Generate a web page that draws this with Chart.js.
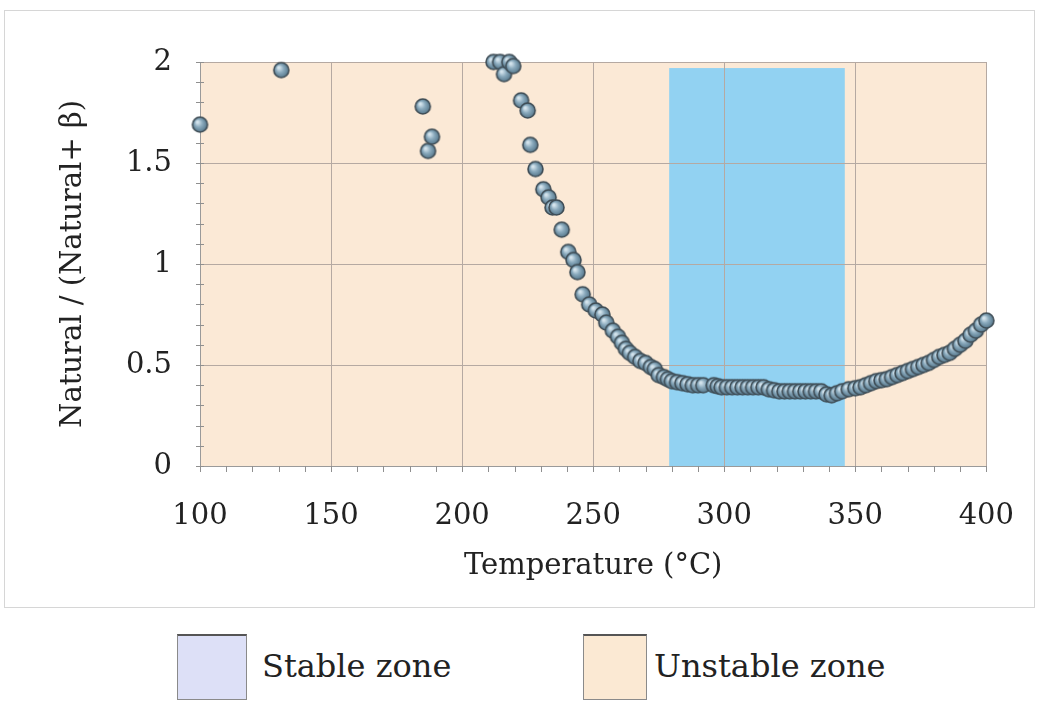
<!DOCTYPE html>
<html lang="en">
<head>
    <meta charset="UTF-8">
    <title>Natural / (Natural+ β) vs Temperature</title>
    <script src="https://cdn.jsdelivr.net/npm/chart.js"></script>
    <style>
        body { margin: 0; background: #ffffff; }
        #contenedor { position: relative; width: 1047px; height: 701px; }
        .caja { position: absolute; top: 634px; height: 66px; border: 1px solid #8a8a8a; border-top: 2px solid #555; box-sizing: border-box; }
        .texto { position: absolute; top: 646px; font-family: "DejaVu Serif", serif; font-size: 32px; color: #222; line-height: 40px; }
    </style>
</head>
<body>
<div id="contenedor">
    <canvas id="grafica" width="1047" height="615"></canvas>

    <!-- Leyenda de zonas -->
    <div class="caja" style="left:177px; width:70px; background:#dde0f7;"></div>
    <div class="texto" style="left:262px;">Stable zone</div>
    <div class="caja" style="left:583px; width:64px; background:#fbe9d3;"></div>
    <div class="texto" style="left:654px;">Unstable zone</div>
</div>

<script>
    // Datos: temperatura (C) y razon Natural/(Natural+beta)
    var temperatura = [
        100, 131, 185, 187, 188.5, 212, 214.5, 216, 218, 219.5,
        222.5, 225, 226, 228, 231, 233, 234.5, 236, 238, 240.5,
        242.5, 244, 246, 248.5, 251, 253.5, 255, 257.5, 259.5, 261,
        262.5, 264, 266, 268, 270, 272, 273.5, 275, 277, 278.5,
        280, 282, 284, 286, 288, 290, 292, 296, 297.5, 299,
        301, 303, 305, 307, 309, 311, 313, 315, 317, 319,
        321, 323, 325, 327, 329, 331, 333, 335, 337, 339,
        341, 343, 345, 347.5, 350, 352, 354, 356, 358, 360,
        362, 364, 366, 368, 370, 372, 374, 376, 378, 380,
        382, 384, 386, 388, 390, 392, 394, 396, 398, 400
    ];
    var razon = [
        1.69, 1.96, 1.78, 1.56, 1.63, 2.00, 2.00, 1.94, 2.00, 1.98,
        1.81, 1.76, 1.59, 1.47, 1.37, 1.33, 1.28, 1.28, 1.17, 1.06,
        1.02, 0.96, 0.85, 0.80, 0.77, 0.75, 0.71, 0.67, 0.64, 0.61,
        0.58, 0.56, 0.54, 0.52, 0.51, 0.49, 0.48, 0.45, 0.44, 0.43,
        0.42, 0.415, 0.41, 0.405, 0.40, 0.40, 0.40, 0.40, 0.395, 0.39,
        0.39, 0.39, 0.39, 0.39, 0.39, 0.39, 0.39, 0.39, 0.38, 0.375,
        0.37, 0.37, 0.37, 0.37, 0.37, 0.37, 0.37, 0.37, 0.37, 0.355,
        0.35, 0.36, 0.37, 0.38, 0.385, 0.39, 0.40, 0.41, 0.42, 0.425,
        0.43, 0.44, 0.45, 0.46, 0.47, 0.48, 0.49, 0.50, 0.51, 0.525,
        0.54, 0.55, 0.56, 0.58, 0.60, 0.62, 0.65, 0.67, 0.70, 0.72
    ];

    // Zona estable (C) y su altura
    var zonaEstable = [279, 346];
    var alturaZona = 1.97;

    var colorInestable = '#fbe9d6';
    var colorEstable = '#92d2f2';
    var fuente = '"DejaVu Serif", serif';

    // Punto con brillo (circulo con degradado)
    function crearPunto(r) {
        var c = document.createElement('canvas');
        var s = r * 2 + 4;
        c.width = s; c.height = s;
        var g = c.getContext('2d');
        var grad = g.createRadialGradient(s / 2 - r * 0.35, s / 2 - r * 0.35, 1, s / 2, s / 2, r);
        grad.addColorStop(0, '#d3e3ec');
        grad.addColorStop(0.45, '#8aaabd');
        grad.addColorStop(1, '#56778b');
        g.beginPath();
        g.arc(s / 2, s / 2, r, 0, Math.PI * 2);
        g.fillStyle = grad;
        g.fill();
        g.lineWidth = 1.6;
        g.strokeStyle = '#3f4d56';
        g.stroke();
        return c;
    }

    // Fondo de zonas y marcas menores
    var pluginZonas = {
        id: 'zonas',
        beforeDraw: function(chart) {
            var ctx = chart.ctx;
            var a = chart.chartArea;
            var x = chart.scales.x, y = chart.scales.y;
            ctx.save();
            // marco del grafico
            ctx.strokeStyle = '#d6d6d6';
            ctx.lineWidth = 1;
            ctx.strokeRect(4.5, 10.5, 1030, 597);
            ctx.fillStyle = colorInestable;
            ctx.fillRect(a.left, a.top, a.right - a.left, a.bottom - a.top);
            var x0 = x.getPixelForValue(zonaEstable[0]);
            var x1 = x.getPixelForValue(zonaEstable[1]);
            var yt = y.getPixelForValue(alturaZona);
            ctx.fillStyle = colorEstable;
            ctx.fillRect(x0, yt, x1 - x0, a.bottom - yt);
            ctx.restore();
        },
        beforeDatasetsDraw: function(chart) {
            var ctx = chart.ctx;
            var a = chart.chartArea;
            var x = chart.scales.x, y = chart.scales.y;
            ctx.save();
            ctx.strokeStyle = '#8f8f8f';
            ctx.lineWidth = 1;
            ctx.beginPath();
            for (var t = 100; t <= 400; t += 10) {
                var px = Math.round(x.getPixelForValue(t)) + 0.5;
                ctx.moveTo(px, a.bottom);
                ctx.lineTo(px, a.bottom + 6);
            }
            for (var k = 0; k <= 20; k++) {
                var py = Math.round(y.getPixelForValue(k / 10)) + 0.5;
                ctx.moveTo(a.left - 4, py);
                ctx.lineTo(a.left + 4, py);
            }
            ctx.stroke();
            ctx.restore();
        }
    };

    var puntos = temperatura.map(function(t, i) { return { x: t, y: razon[i] }; });

    var ctx = document.getElementById('grafica').getContext('2d');
    var grafica = new Chart(ctx, {
        type: 'scatter',
        data: {
            datasets: [{
                label: 'Natural / (Natural+ β)',
                data: puntos,
                pointStyle: crearPunto(7.5),
                pointRadius: 8,
                pointHoverRadius: 8,
                clip: false
            }]
        },
        options: {
            responsive: false,
            animation: false,
            layout: { padding: { top: 62, right: 59, left: 0, bottom: 0 } },
            plugins: {
                legend: { display: false },
                tooltip: { enabled: false }
            },
            scales: {
                x: {
                    type: 'linear',
                    min: 100,
                    max: 400,
                    afterFit: function(s) { s.height = 149; },
                    ticks: { stepSize: 50, padding: 33, color: '#222', font: { family: fuente, size: 29 } },
                    grid: { color: '#b5a9a2', lineWidth: 1, drawTicks: false },
                    border: { color: '#9a9a9a' },
                    title: {
                        display: true,
                        text: 'Temperature (°C)',
                        color: '#222',
                        font: { family: fuente, size: 29 },
                        padding: { top: 0, bottom: 31 }
                    }
                },
                y: {
                    min: 0,
                    max: 2,
                    afterFit: function(s) { s.width = 200; },
                    ticks: {
                        stepSize: 0.5,
                        padding: 28,
                        color: '#222',
                        font: { family: fuente, size: 29 },
                        callback: function(v) { return String(Number(v)); }
                    },
                    grid: { color: '#b5a9a2', lineWidth: 1, drawTicks: false },
                    border: { color: '#9a9a9a' },
                    title: {
                        display: true,
                        text: 'Natural / (Natural+ β)',
                        color: '#222',
                        font: { family: fuente, size: 29 },
                        padding: { top: 56, bottom: 0 }
                    }
                }
            }
        },
        plugins: [pluginZonas]
    });
</script>
</body>
</html>
